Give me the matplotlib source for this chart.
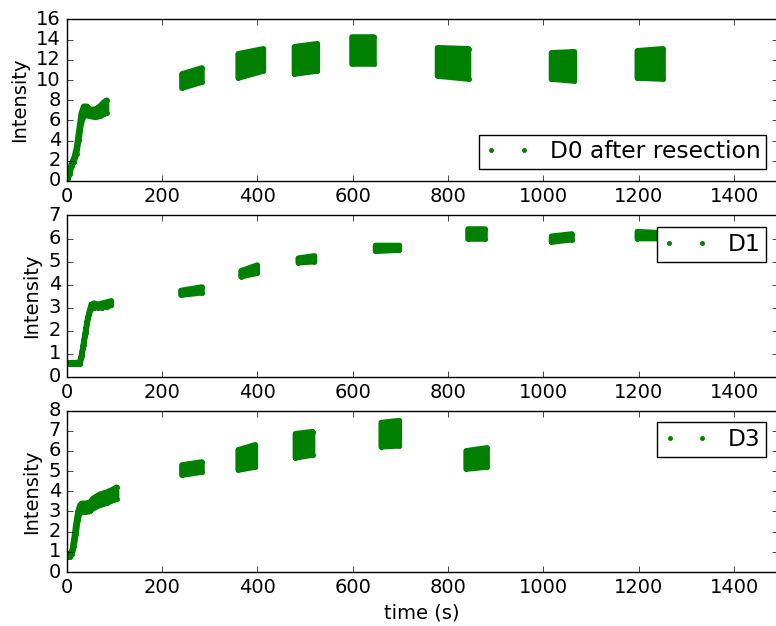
import numpy as np
import matplotlib
matplotlib.use('Agg')
import matplotlib.pyplot as plt

plt.style.use('classic')
plt.rcParams['font.size'] = 14

# --- D0 after resection ---
d0_ramp_t  = [3, 7, 11, 16, 21, 26, 31, 36, 42, 50, 60, 70, 78, 84]
d0_ramp_lo = [0.2, 0.7, 1.5, 1.9, 2.7, 4.1, 5.7, 6.4, 6.5, 6.4, 6.3, 6.4, 6.6, 6.7]
d0_ramp_hi = [0.4, 1.1, 1.8, 2.3, 3.3, 5.0, 6.7, 7.4, 7.4, 7.1, 7.1, 7.4, 7.8, 8.0]
d0_t0  = [242, 360, 478, 598, 778, 1017, 1197]
d0_t1  = [284, 413, 526, 645, 843, 1065, 1251]
d0_lo0 = [9.2, 10.2, 10.6, 11.6, 10.4, 10.1, 10.2]
d0_lo1 = [9.8, 10.9, 10.9, 11.6, 10.1, 9.9, 10.1]
d0_hi0 = [10.6, 12.6, 13.3, 14.3, 13.2, 12.7, 12.9]
d0_hi1 = [11.2, 13.1, 13.6, 14.3, 13.1, 12.8, 13.1]

# --- D1 ---
d1_ramp_t  = [3, 10, 20, 28, 32, 36, 40, 44, 48, 52, 58, 66, 75, 85, 94]
d1_ramp_lo = [0.55, 0.55, 0.55, 0.55, 0.9, 1.4, 1.9, 2.4, 2.75, 2.95, 3.0, 3.0, 3.0, 3.05, 3.1]
d1_ramp_hi = [0.62, 0.62, 0.62, 0.65, 1.0, 1.5, 2.0, 2.5, 2.85, 3.15, 3.2, 3.15, 3.2, 3.25, 3.3]
d1_t0  = [240, 366, 486, 648, 842, 1017, 1197]
d1_t1  = [284, 400, 520, 698, 878, 1060, 1245]
d1_lo0 = [3.55, 4.35, 4.95, 5.45, 6.0, 5.85, 6.0]
d1_lo1 = [3.65, 4.5, 5.0, 5.5, 6.0, 5.95, 6.0]
d1_hi0 = [3.75, 4.6, 5.15, 5.7, 6.4, 6.1, 6.3]
d1_hi1 = [3.9, 4.85, 5.25, 5.7, 6.4, 6.2, 6.25]

# --- D3 ---
d3_ramp_t  = [3, 8, 12, 16, 20, 24, 28, 32, 39, 49, 56, 70, 84, 98, 105]
d3_ramp_lo = [0.75, 0.75, 0.9, 1.3, 1.9, 2.6, 2.9, 3.0, 2.95, 3.0, 3.15, 3.3, 3.4, 3.55, 3.6]
d3_ramp_hi = [0.85, 0.9, 1.1, 1.7, 2.4, 3.0, 3.3, 3.4, 3.4, 3.45, 3.65, 3.85, 3.95, 4.1, 4.2]
d3_t0  = [242, 360, 480, 660, 838]
d3_t1  = [284, 396, 516, 698, 882]
d3_lo0 = [4.8, 5.05, 5.65, 6.2, 5.1]
d3_lo1 = [4.95, 5.2, 5.8, 6.25, 5.2]
d3_hi0 = [5.3, 6.05, 6.85, 7.4, 6.0]
d3_hi1 = [5.45, 6.3, 6.95, 7.5, 6.15]

XMAX = 1492


def blob(ax, t, lo, hi, label=None):
    t, lo, hi = np.asarray(t, float), np.asarray(lo, float), np.asarray(hi, float)
    ax.fill(np.concatenate([t, t[::-1]]), np.concatenate([lo, hi[::-1]]),
            color='g', lw=4, joinstyle='round')
    ax.plot(t, lo, 'g.', label=label)
    ax.plot(t, hi, 'g.')


def panel(ax, ramp, clusters, ymax, label, loc):
    blob(ax, *ramp, label=label)
    for t0, t1, lo0, lo1, hi0, hi1 in zip(*clusters):
        blob(ax, [t0, t1], [lo0, lo1], [hi0, hi1])
    ax.set_xlim(0, XMAX)
    ax.set_ylim(0, ymax)
    ax.set_ylabel('Intensity')
    ax.legend(loc=loc, numpoints=2, fontsize='large', borderpad=0.25)


fig = plt.figure(figsize=(7.76, 6.26), dpi=100, facecolor='white')
# right spine sits just past the figure edge, as in the cropped original
l, w, h = 66.5 / 776, 711.5 / 776, 161.5 / 626
ax0 = fig.add_axes([l, 1 - 181 / 626, w, h])
ax1 = fig.add_axes([l, 1 - 377 / 626, w, h])
ax2 = fig.add_axes([l, 1 - 572 / 626, w, h])

panel(ax0, (d0_ramp_t, d0_ramp_lo, d0_ramp_hi),
      (d0_t0, d0_t1, d0_lo0, d0_lo1, d0_hi0, d0_hi1), 16, 'D0 after resection', 'lower right')
panel(ax1, (d1_ramp_t, d1_ramp_lo, d1_ramp_hi),
      (d1_t0, d1_t1, d1_lo0, d1_lo1, d1_hi0, d1_hi1), 7, 'D1', 'upper right')
panel(ax2, (d3_ramp_t, d3_ramp_lo, d3_ramp_hi),
      (d3_t0, d3_t1, d3_lo0, d3_lo1, d3_hi0, d3_hi1), 8, 'D3', 'upper right')
ax2.set_xlabel('time (s)')

fig.savefig('out.png', dpi=100, facecolor='white')
